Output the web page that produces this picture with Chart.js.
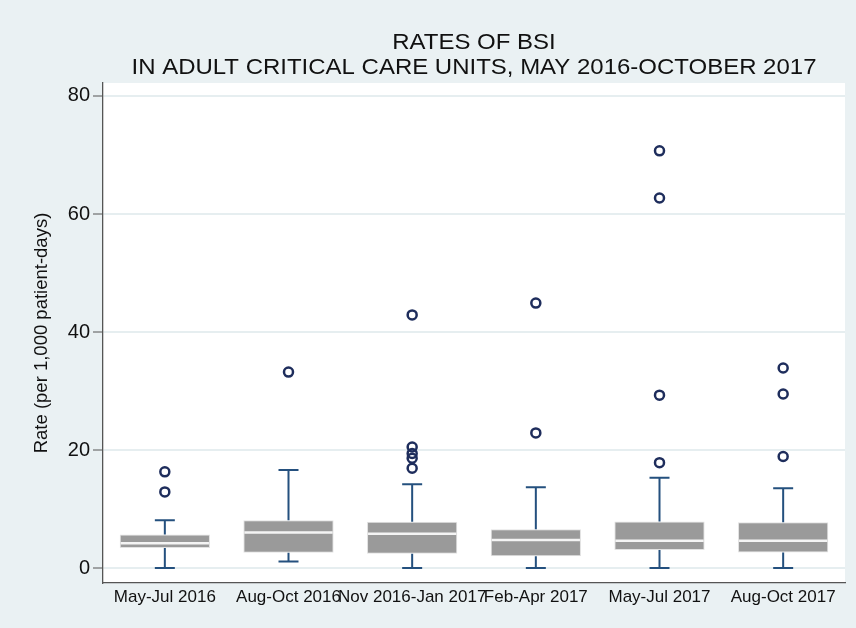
<!DOCTYPE html>
<html>
<head>
<meta charset="utf-8">
<script src="https://cdn.jsdelivr.net/npm/chart.js@4"></script>
<style>
  html, body { margin: 0; padding: 0; background: #eaf1f3; }
  #wrap { width: 856px; height: 628px; }
</style>
</head>
<body>
<div id="wrap"><canvas id="myChart" width="856" height="628"></canvas></div>
<script>
'use strict';
// quarters shown on the x axis
var categories = ['May-Jul 2016', 'Aug-Oct 2016', 'Nov 2016-Jan 2017', 'Feb-Apr 2017', 'May-Jul 2017', 'Aug-Oct 2017'];

// box plot summaries, rate per 1,000 patient-days
var whiskerLow  = [0,   1.1, 0,    0,    0,    0];
var q1          = [3.4, 2.6, 2.4,  2.0,  3.05, 2.65];
var median      = [4.2, 6.0, 5.8,  4.75, 4.6,  4.6];
var q3          = [5.7, 8.1, 7.85, 6.55, 7.9,  7.75];
var whiskerHigh = [8.1, 16.6, 14.2, 13.7, 15.3, 13.5];

// outside values for each quarter
var outliers = [
    [16.3, 12.9],
    [33.2],
    [42.9, 20.5, 19.4, 18.6, 16.9],
    [44.9, 22.9],
    [70.7, 62.7, 29.3, 17.85],
    [33.9, 29.5, 18.9]
];

var yTicks = [0, 20, 40, 60, 80];
var titleLines = ['RATES OF BSI', 'IN ADULT CRITICAL CARE UNITS, MAY 2016-OCTOBER 2017'];

var outlierPoints = [];
outliers.forEach(function (vals, i) {
    vals.forEach(function (v) {
        outlierPoints.push({ x: categories[i], y: v });
    });
});

// light blue page, white plot region
var backgroundPlugin = {
    id: 'background',
    beforeDraw: function (chart) {
        var ctx = chart.ctx, a = chart.chartArea;
        ctx.save();
        ctx.fillStyle = '#eaf1f3';
        ctx.fillRect(0, 0, chart.width, chart.height);
        ctx.fillStyle = '#ffffff';
        ctx.fillRect(a.left, a.top, a.right - a.left, a.bottom - a.top);
        ctx.restore();
    }
};

// whiskers, caps and median lines, placed through the chart scales
var boxPlugin = {
    id: 'boxParts',
    afterDatasetDraw: function (chart, args) {
        if (args.index !== 1) return;
        var ctx = chart.ctx;
        var xs = chart.scales.x, ys = chart.scales.y;
        var meta = chart.getDatasetMeta(1);
        ctx.save();
        categories.forEach(function (c, i) {
            var x = xs.getPixelForValue(i);
            var half = meta.data[i].width / 2;
            var cap = 10;
            ctx.strokeStyle = '#24507e';
            ctx.lineWidth = 2;
            ctx.beginPath();
            ctx.moveTo(x, ys.getPixelForValue(q3[i]));
            ctx.lineTo(x, ys.getPixelForValue(whiskerHigh[i]));
            ctx.moveTo(x - cap, ys.getPixelForValue(whiskerHigh[i]));
            ctx.lineTo(x + cap, ys.getPixelForValue(whiskerHigh[i]));
            ctx.moveTo(x, ys.getPixelForValue(q1[i]));
            ctx.lineTo(x, ys.getPixelForValue(whiskerLow[i]));
            ctx.moveTo(x - cap, ys.getPixelForValue(whiskerLow[i]));
            ctx.lineTo(x + cap, ys.getPixelForValue(whiskerLow[i]));
            ctx.stroke();
            ctx.strokeStyle = '#f4f4f4';
            ctx.lineWidth = 2.5;
            ctx.beginPath();
            ctx.moveTo(x - half + 1, ys.getPixelForValue(median[i]));
            ctx.lineTo(x + half - 1, ys.getPixelForValue(median[i]));
            ctx.stroke();
        });
        ctx.restore();
    }
};

// two-line title centred over the plot region
var titlePlugin = {
    id: 'twoLineTitle',
    afterDraw: function (chart) {
        var ctx = chart.ctx, a = chart.chartArea;
        var cx = (a.left + a.right) / 2;
        ctx.save();
        ctx.fillStyle = '#111111';
        ctx.font = '22px "Liberation Sans", Arial, sans-serif';
        ctx.textAlign = 'center';
        ctx.textBaseline = 'alphabetic';
        ctx.translate(cx, 0);
        ctx.scale(1.09, 1);
        ctx.fillText(titleLines[0], 0, 49);
        ctx.fillText(titleLines[1], 0, 74);
        ctx.restore();
    }
};

var ctx = document.getElementById('myChart');
var myChart = new Chart(ctx, {
    type: 'bar',
    data: {
        labels: categories,
        datasets: [{
            type: 'line',
            label: 'Outside values',
            data: outlierPoints,
            showLine: false,
            pointRadius: 4.5,
            pointBorderWidth: 2.5,
            pointBorderColor: '#1e2d5c',
            pointBackgroundColor: 'rgba(0,0,0,0)',
            order: 0
        }, {
            label: 'Interquartile range',
            data: categories.map(function (c, i) { return [q1[i], q3[i]]; }),
            backgroundColor: '#9a9a9a',
            borderColor: '#e2e2e2',
            borderWidth: 1,
            borderSkipped: false,
            barPercentage: 0.73,
            categoryPercentage: 1,
            order: 1
        }]
    },
    options: {
        responsive: false,
        animation: false,
        layout: { padding: { top: 83, right: 11, bottom: 0, left: 0 } },
        plugins: {
            legend: { display: false },
            tooltip: { enabled: false }
        },
        scales: {
            x: {
                grid: { display: false, drawTicks: false },
                border: { display: true, color: '#555555', width: 1.3 },
                ticks: {
                    autoSkip: false,
                    maxRotation: 0,
                    minRotation: 0,
                    padding: 4,
                    color: '#111111',
                    font: { family: '"Liberation Sans", Arial, sans-serif', size: 17 }
                },
                afterFit: function (scale) { scale.height = 45; }
            },
            y: {
                min: -2.54,
                max: 82.2,
                afterBuildTicks: function (scale) {
                    scale.ticks = yTicks.map(function (v) { return { value: v }; });
                },
                grid: {
                    color: '#e6eef0',
                    lineWidth: 2,
                    tickLength: 10,
                    tickColor: '#555555',
                    tickWidth: 1
                },
                border: { display: true, color: '#555555', width: 1.3 },
                ticks: {
                    padding: 3,
                    color: '#111111',
                    font: { family: '"Liberation Sans", Arial, sans-serif', size: 20 }
                },
                title: {
                    display: true,
                    text: 'Rate (per 1,000 patient-days)',
                    color: '#111111',
                    padding: { top: 31, bottom: 0 },
                    font: { family: '"Liberation Sans", Arial, sans-serif', size: 18.5 }
                },
                afterFit: function (scale) { scale.width = 103; }
            }
        }
    },
    plugins: [backgroundPlugin, boxPlugin, titlePlugin]
});
</script>
</body>
</html>
